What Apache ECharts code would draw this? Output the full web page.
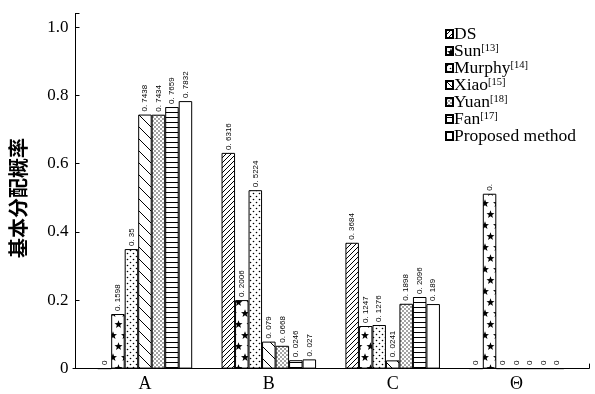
<!DOCTYPE html>
<html>
<head>
<meta charset="utf-8">
<script src="https://cdn.jsdelivr.net/npm/echarts@6/dist/echarts.min.js"></script>
<style>
  html, body { margin: 0; padding: 0; background: #fff; }
  #chart { width: 595px; height: 394px; }
</style>
</head>
<body>
<div id="chart"></div>
<script>
// Categories (focal elements) and the compared combination methods
const categories = ['A', 'B', 'C', 'Θ'];
const methods = ['DS', 'Sun', 'Murphy', 'Xiao', 'Yuan', 'Fan', 'Proposed method'];
const refTags = ['', '[13]', '[14]', '[15]', '[18]', '[17]', ''];

// Basic probability assignment per method, in category order A, B, C, Θ
const dsValues       = [0, 0.6316, 0.3684, 0];
const sunValues      = [0.1598, 0.2006, 0.1247, 0.512];
const murphyValues   = [0.35, 0.5224, 0.1276, 0];
const xiaoValues     = [0.7438, 0.079, 0.0241, 0];
const yuanValues     = [0.7434, 0.0668, 0.1898, 0];
const fanValues      = [0.7659, 0.0246, 0.2096, 0];
const proposedValues = [0.7832, 0.027, 0.189, 0];

const yTicks = [0, 0.2, 0.4, 0.6, 0.8, 1.0];

const valueSets = [dsValues, sunValues, murphyValues, xiaoValues, yuanValues, fanValues, proposedValues];

// ---- hatch / fill patterns ----
function tile(w, h, draw) {
  const c = document.createElement('canvas');
  c.width = w; c.height = h;
  const g = c.getContext('2d');
  g.fillStyle = '#fff';
  g.fillRect(0, 0, w, h);
  g.strokeStyle = '#000';
  g.fillStyle = '#000';
  g.lineWidth = 1;
  draw(g, w, h);
  return { image: c, repeat: 'repeat' };
}
function line(g, x1, y1, x2, y2) {
  g.beginPath(); g.moveTo(x1, y1); g.lineTo(x2, y2); g.stroke();
}
function star(g, cx, cy, r) {
  g.beginPath();
  for (let k = 0; k < 10; k++) {
    const rr = k % 2 === 0 ? r : r * 0.42;
    const a = -Math.PI / 2 + k * Math.PI / 5;
    const x = cx + rr * Math.cos(a), y = cy + rr * Math.sin(a);
    if (k === 0) g.moveTo(x, y); else g.lineTo(x, y);
  }
  g.closePath();
  g.fill();
}
function dot(g, x, y, r) {
  g.beginPath(); g.arc(x, y, r, 0, Math.PI * 2); g.fill();
}

const patterns = [
  // forward diagonal hatch
  tile(5, 5, (g, w, h) => { line(g, -1, h + 1, w + 1, -1); line(g, -1, 1, 1, -1); line(g, w - 1, h + 1, w + 1, h - 1); }),
  // staggered stars
  tile(12, 22, (g) => { star(g, 5, 5.5, 4.2); star(g, 10.5, 16.5, 4.2); star(g, -1.5, 16.5, 4.2); }),
  // sparse dots
  tile(6, 6, (g) => { dot(g, 1.5, 1.5, 0.8); dot(g, 4.5, 4.5, 0.8); }),
  // wide backslash hatch
  tile(12, 12, (g, w, h) => { line(g, -1, -1, w + 1, h + 1); line(g, w - 1, -1, w + 1, 1); line(g, -1, h - 1, 1, h + 1); }),
  // dense dots
  tile(4, 4, (g) => { dot(g, 1, 1, 0.7); dot(g, 3, 3, 0.7); }),
  // horizontal lines
  tile(5, 5, (g, w) => { line(g, 0, 2.5, w, 2.5); }),
  // plain white
  '#fff'
];

function valueText(v) {
  if (v === 0) return '0';
  return '0. ' + String(v).slice(2);
}

const series = methods.map((m, i) => ({
  name: m,
  type: 'bar',
  barGap: '0%',
  barCategoryGap: '23.7%',
  data: valueSets[i].map((v, j) => {
    if (i === 1 && j === 3) return { value: v, label: { formatter: '0.' } };
    return v;
  }),
  itemStyle: { color: patterns[i], borderColor: '#000', borderWidth: 1 },
  label: {
    show: true,
    position: 'top',
    rotate: 90,
    align: 'left',
    verticalAlign: 'middle',
    distance: 3,
    fontFamily: 'Liberation Sans',
    fontSize: 8,
    color: '#000',
    formatter: p => valueText(p.value)
  },
  emphasis: { disabled: true }
}));

const plotTop = 13.4;
const plotBottom = 25.4;

const chart = echarts.init(document.getElementById('chart'), null, { renderer: 'canvas' });
chart.setOption({
  animation: false,
  backgroundColor: '#fff',
  grid: [
    // bar area
    { left: 80.5, right: 16.5, top: plotTop, bottom: plotBottom, containLabel: false },
    // full-width frame carrying the bottom axis line
    { left: 73, right: 6, top: plotTop, bottom: plotBottom, containLabel: false }
  ],
  legend: {
    orient: 'vertical',
    left: 440,
    top: 20,
    itemWidth: 7,
    itemHeight: 8,
    itemGap: -1,
    icon: 'rect',
    selectedMode: false,
    data: methods,
    formatter: name => {
      const tag = refTags[methods.indexOf(name)];
      return tag ? name + '{sup|' + tag + '}' : name;
    },
    textStyle: {
      fontFamily: 'Liberation Serif',
      fontSize: 17.5,
      lineHeight: 17,
      color: '#000',
      padding: [0, 0, 0, -4],
      rich: {
        sup: { fontFamily: 'Liberation Serif', fontSize: 10.5, verticalAlign: 'top', lineHeight: 17, padding: [0, 0, 5, 0], color: '#000' }
      }
    }
  },
  xAxis: [
    {
      type: 'category',
      gridIndex: 0,
      data: categories,
      boundaryGap: true,
      axisLine: { show: false },
      axisTick: { show: false },
      axisLabel: {
        fontFamily: 'Liberation Serif',
        fontSize: 18,
        color: '#000',
        margin: 7
      }
    },
    {
      type: 'value',
      gridIndex: 1,
      min: 0,
      max: 1,
      splitLine: { show: false },
      axisLine: { show: true, onZero: false, lineStyle: { color: '#000', width: 1 } },
      axisTick: { show: true, inside: true, length: 5, customValues: [1], lineStyle: { color: '#000' } },
      axisLabel: { show: false }
    }
  ],
  yAxis: [
    {
      type: 'value',
      gridIndex: 0,
      min: 0,
      max: 1.04,
      interval: 0.2,
      offset: 7.5,
      name: '基本分配概率',
      nameLocation: 'middle',
      nameGap: 47.5,
      nameRotate: 90,
      nameTextStyle: { fontFamily: 'Noto Sans CJK SC', fontSize: 20, fontWeight: 'bold', color: '#000', padding: [0, 14, 0, 0] },
      splitLine: { show: false },
      axisLine: { show: true, onZero: false, lineStyle: { color: '#000', width: 1 } },
      axisTick: { show: true, inside: true, length: 4, lineStyle: { color: '#000' } },
      axisLabel: {
        customValues: yTicks,
        formatter: v => (v === 0 ? '0' : v.toFixed(1)),
        fontFamily: 'Liberation Serif',
        fontSize: 17,
        color: '#000',
        margin: 7
      }
    },
    {
      type: 'value',
      gridIndex: 1,
      min: 0,
      max: 1,
      show: false
    }
  ],
  series: series
});
</script>
</body>
</html>
